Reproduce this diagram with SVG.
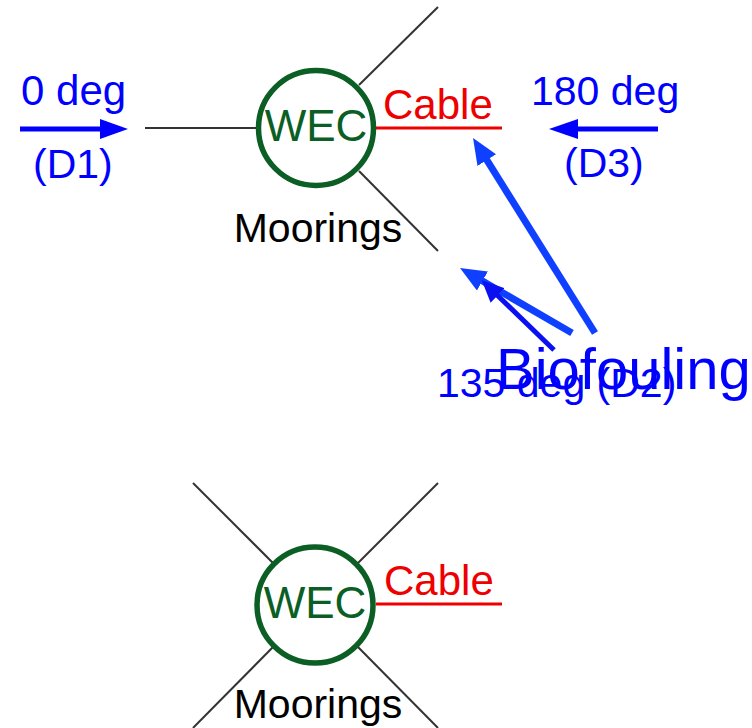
<svg xmlns="http://www.w3.org/2000/svg" width="752" height="728" viewBox="0 0 752 728">
  <style>
    text { font-family: "Liberation Sans", Arial, sans-serif; }
    .wec { fill: none; stroke: #0b5e24; stroke-width: 5.5; }
    .wec-label { fill: #0b5e24; font-size: 44px; text-anchor: middle; }
    .mooring { stroke: #333333; stroke-width: 2; fill: none; }
    .cable { stroke: #ee0000; stroke-width: 3; fill: none; }
    .cable-label { fill: #ee0000; font-size: 42px; }
    .mooring-label { fill: #000000; font-size: 41px; text-anchor: middle; }
    .dir { stroke: #0000ff; stroke-width: 5; fill: none; }
    .dir-label { fill: #0000ff; font-size: 41px; }
    .bio { stroke: #1040ff; stroke-width: 7; fill: none; }
    .bio-thin { stroke: #0a10f0; stroke-width: 5; fill: none; }
    .bio-label { fill: #0000ff; font-size: 58px; }
  </style>
  <defs>
    <marker id="head-bio" markerUnits="userSpaceOnUse" viewBox="0 0 26 22" refX="4" refY="11" markerWidth="26" markerHeight="22" orient="auto">
      <path d="M0,0 L26,11 L0,22 z" fill="#1040ff"/>
    </marker>
    <marker id="head-thin" markerUnits="userSpaceOnUse" viewBox="0 0 22 20" refX="4" refY="10" markerWidth="22" markerHeight="20" orient="auto">
      <path d="M0,0 L22,10 L0,20 z" fill="#0a10f0"/>
    </marker>
  </defs>

  <g id="connectors">
    <!-- upper device: moorings and cable -->
    <line class="mooring" x1="145" y1="128" x2="258" y2="128"/>
    <line class="mooring" x1="359" y1="85" x2="438" y2="7"/>
    <line class="mooring" x1="359" y1="171" x2="438" y2="251"/>
    <line class="cable" x1="375" y1="128" x2="502" y2="128"/>

    <!-- lower device: moorings and cable -->
    <line class="mooring" x1="193" y1="483" x2="274" y2="564"/>
    <line class="mooring" x1="438" y1="483" x2="357" y2="564"/>
    <line class="mooring" x1="274" y1="646" x2="193" y2="728"/>
    <line class="mooring" x1="357" y1="646" x2="438" y2="728"/>
    <line class="cable" x1="376" y1="604" x2="502" y2="604"/>

    <!-- wave direction arrows -->
    <line class="dir" x1="20" y1="129" x2="102" y2="129"/>
    <polygon points="100,119 128,129 100,139" fill="#0000ff"/>
    <line class="dir" x1="658" y1="129" x2="576" y2="129"/>
    <polygon points="578,119 549,129 578,139" fill="#0000ff"/>

    <!-- biofouling pointers -->
    <line class="bio" x1="595" y1="333" x2="484.7" y2="156.7" marker-end="url(#head-bio)"/>
    <line class="bio" x1="572" y1="333" x2="479" y2="279" marker-end="url(#head-bio)"/>
    <line class="bio-thin" x1="554" y1="350" x2="494.7" y2="292.7" marker-end="url(#head-thin)"/>
  </g>

  <g id="wec-top">
    <circle class="wec" cx="316" cy="128" r="57.5"/>
    <text class="wec-label" x="316" y="141">WEC</text>
  </g>
  <g id="cable-top-label">
    <text class="cable-label" x="383" y="119">Cable</text>
  </g>
  <g id="moorings-top-label">
    <text class="mooring-label" x="318" y="242">Moorings</text>
  </g>

  <g id="wec-bottom">
    <circle class="wec" cx="315" cy="605" r="58"/>
    <text class="wec-label" x="315" y="618">WEC</text>
  </g>
  <g id="cable-bottom-label">
    <text class="cable-label" x="384" y="595">Cable</text>
  </g>
  <g id="moorings-bottom-label">
    <text class="mooring-label" x="318" y="718">Moorings</text>
  </g>

  <g id="d1">
    <text class="dir-label" x="21" y="105" style="font-size:42px">0 deg</text>
    <text class="dir-label" x="33" y="178">(D1)</text>
  </g>
  <g id="d3">
    <text class="dir-label" x="531" y="105">180 deg</text>
    <text class="dir-label" x="564" y="177">(D3)</text>
  </g>
  <g id="d2">
    <text class="dir-label" x="437" y="397">135 deg (D2)</text>
  </g>
  <g id="biofouling">
    <text class="bio-label" x="496" y="389">Biofouling</text>
  </g>
</svg>
